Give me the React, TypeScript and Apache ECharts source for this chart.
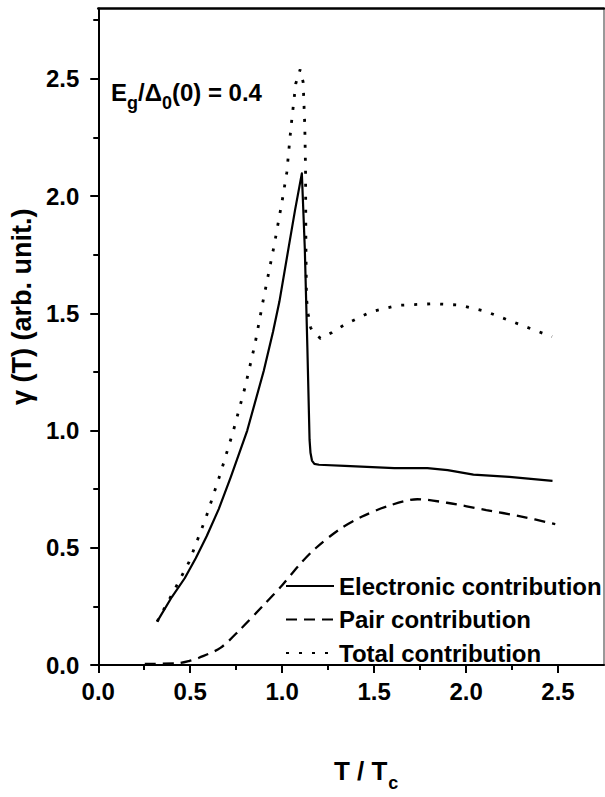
import React, { useEffect, useRef } from "react";
import * as echarts from "echarts";

// Electronic contribution
const elecT = [0.32, 0.40, 0.47, 0.53, 0.59, 0.655, 0.72, 0.81, 0.90, 0.95, 0.985, 1.035, 1.07, 1.107, 1.123, 1.137, 1.149, 1.154, 1.162, 1.175, 1.20, 1.34, 1.61, 1.79, 1.90, 2.04, 2.235, 2.47];
const elecV = [0.185, 0.29, 0.37, 0.455, 0.55, 0.665, 0.80, 1.00, 1.255, 1.42, 1.55, 1.78, 1.94, 2.097, 1.778, 1.354, 0.96, 0.905, 0.872, 0.858, 0.854, 0.849, 0.840, 0.840, 0.831, 0.812, 0.802, 0.785];

// Pair contribution
const pairT = [0.253, 0.43, 0.494, 0.548, 0.664, 0.771, 0.896, 1.0, 1.093, 1.182, 1.307, 1.432, 1.575, 1.735, 1.896, 2.11, 2.289, 2.485];
const pairV = [0.005, 0.007, 0.017, 0.031, 0.073, 0.151, 0.253, 0.34, 0.427, 0.498, 0.576, 0.632, 0.678, 0.707, 0.692, 0.661, 0.635, 0.601];

// Total contribution
const totT = [0.32, 0.414, 0.494, 0.584, 0.664, 0.735, 0.798, 0.852, 0.896, 0.959, 1.0, 1.025, 1.048, 1.074, 1.098, 1.114, 1.123, 1.127, 1.129, 1.132, 1.142, 1.155, 1.164, 1.208, 1.271, 1.342, 1.485, 1.628, 1.825, 1.967, 2.11, 2.253, 2.467];
const totV = [0.185, 0.32, 0.44, 0.625, 0.816, 1.0, 1.184, 1.368, 1.552, 1.80, 1.98, 2.10, 2.295, 2.48, 2.54, 2.486, 2.30, 2.118, 1.807, 1.566, 1.495, 1.439, 1.425, 1.393, 1.418, 1.453, 1.507, 1.534, 1.541, 1.535, 1.507, 1.464, 1.40];

const seriesNames = ["Electronic contribution", "Pair contribution", "Total contribution"];

const xMajor = [0, 0.5, 1.0, 1.5, 2.0, 2.5];
const xMinor = [0.25, 0.75, 1.25, 1.75, 2.25];
const yMajor = [0, 0.5, 1.0, 1.5, 2.0, 2.5];
const yMinor = [0.25, 0.75, 1.25, 1.75, 2.25, 2.75];

const FONT = "'Liberation Sans', Arial, Helvetica, sans-serif";

const zip = (a: number[], b: number[]) => a.map((t, i) => [t, b[i]]);

export default function App() {
  const ref = useRef<HTMLDivElement>(null);
  useEffect(() => {
    if (!ref.current) return;
    const chart = echarts.init(ref.current, null, { renderer: "svg" });
    const X_MIN = 0, X_MAX = 2.75, Y_MIN = 0, Y_MAX = 2.8;
    const labelStyle = { color: "#000", fontFamily: FONT, fontWeight: "bold" as const, fontSize: 24 };
    chart.setOption({
      animation: false,
      backgroundColor: "#fff",
      grid: { left: 92.7, right: 1, top: 8.5, bottom: 128, containLabel: false },
      legend: {
        orient: "vertical",
        left: 280,
        top: 568,
        itemWidth: 48,
        itemHeight: 14,
        itemGap: 7.5,
        data: seriesNames,
        itemStyle: { color: "transparent", borderWidth: 0, opacity: 0 },
        textStyle: { ...labelStyle, lineHeight: 26 },
      },
      xAxis: [
        {
          type: "value", min: X_MIN, max: X_MAX, position: "bottom",
          axisLine: { show: true, onZero: false, lineStyle: { color: "#000", width: 2 } },
          axisTick: { show: true, inside: false, length: 8, customValues: xMajor, lineStyle: { color: "#000", width: 2 } },
          axisLabel: { show: true, margin: 14, customValues: xMajor, formatter: (v: number) => v.toFixed(1), ...labelStyle },
          splitLine: { show: false },
          name: "{m|T / T}{s|c}",
          nameLocation: "middle",
          nameGap: 93,
          nameTextStyle: {
            color: "#000", fontFamily: FONT, fontWeight: "bold", fontSize: 26, padding: [0, 0, 0, 30],
            rich: {
              m: { fontFamily: FONT, fontWeight: "bold", fontSize: 26, lineHeight: 30, verticalAlign: "top", color: "#000" },
              s: { fontFamily: FONT, fontWeight: "bold", fontSize: 18, lineHeight: 18, verticalAlign: "top", padding: [16, 0, 0, 1], color: "#000" },
            },
          },
        },
        {
          type: "value", min: X_MIN, max: X_MAX, position: "bottom",
          axisLine: { show: false },
          axisTick: { show: true, inside: false, length: 5, customValues: xMinor, lineStyle: { color: "#000", width: 2 } },
          axisLabel: { show: false },
          splitLine: { show: false },
        },
        {
          type: "value", min: X_MIN, max: X_MAX, position: "top",
          axisLine: { show: true, onZero: false, lineStyle: { color: "#000", width: 2.5 } },
          axisTick: { show: false }, axisLabel: { show: false }, splitLine: { show: false },
        },
      ],
      yAxis: [
        {
          type: "value", min: Y_MIN, max: Y_MAX, position: "left",
          axisLine: { show: true, onZero: false, lineStyle: { color: "#000", width: 2 } },
          axisTick: { show: true, inside: false, length: 8, customValues: yMajor, lineStyle: { color: "#000", width: 2 } },
          axisLabel: { show: true, margin: 19, customValues: yMajor, formatter: (v: number) => v.toFixed(1), ...labelStyle },
          splitLine: { show: false },
          name: "γ (T) (arb. unit.)",
          nameLocation: "middle",
          nameRotate: 90,
          nameGap: 53,
          nameTextStyle: { color: "#000", fontFamily: FONT, fontWeight: "bold", fontSize: 27, padding: [0, 0, 0, 60] },
        },
        {
          type: "value", min: Y_MIN, max: Y_MAX, position: "left",
          axisLine: { show: false },
          axisTick: { show: true, inside: false, length: 5, customValues: yMinor, lineStyle: { color: "#000", width: 2 } },
          axisLabel: { show: false },
          splitLine: { show: false },
        },
        {
          type: "value", min: Y_MIN, max: Y_MAX, position: "right",
          axisLine: { show: true, onZero: false, lineStyle: { color: "#777", width: 1.5 } },
          axisTick: { show: false }, axisLabel: { show: false }, splitLine: { show: false },
        },
      ],
      graphic: [
        {
          type: "text",
          left: 111,
          top: 80,
          style: {
            text: "{m|E}{s|g}{m|/Δ}{s|0}{m|(0) = 0.4}",
            rich: {
              m: { fontFamily: FONT, fontWeight: "bold", fontSize: 24, lineHeight: 28, verticalAlign: "top", fill: "#000" },
              s: { fontFamily: FONT, fontWeight: "bold", fontSize: 18, lineHeight: 18, verticalAlign: "top", padding: [14, 0, 0, 0], fill: "#000" },
            },
          },
        },
      ],
      series: [
        {
          name: seriesNames[0], type: "line", xAxisIndex: 0, yAxisIndex: 0, symbol: "none", smooth: false,
          data: zip(elecT, elecV),
          lineStyle: { color: "#000", width: 2.2, type: "solid", join: "round" },
          itemStyle: { color: "#000" },
        },
        {
          name: seriesNames[1], type: "line", xAxisIndex: 0, yAxisIndex: 0, symbol: "none", smooth: 0.3,
          data: zip(pairT, pairV),
          lineStyle: { color: "#000", width: 2.3, type: [11, 7] },
          itemStyle: { color: "#000" },
        },
        {
          name: seriesNames[2], type: "line", xAxisIndex: 0, yAxisIndex: 0, symbol: "none", smooth: false,
          data: zip(totT, totV),
          lineStyle: { color: "#000", width: 2.8, type: [3, 10] },
          itemStyle: { color: "#000" },
        },
      ],
    });
    return () => chart.dispose();
  }, []);
  return <div ref={ref} style={{ position: "fixed", left: 0, top: 0, width: 605, height: 797, background: "#fff" }} />;
}
